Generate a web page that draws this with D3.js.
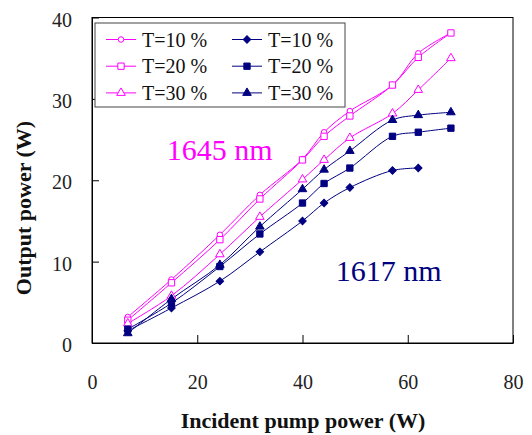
<!DOCTYPE html>
<html lang="en">
  <head>
    <meta charset="UTF-8" />
    <script src="https://d3js.org/d3.v7.min.js"></script>
    <title>Output power vs incident pump power</title>
    <style>
      body { margin: 0; background: #fff; }
      text { font-family: "Liberation Serif", "Times New Roman", serif; }
    </style>
  </head>
  <body>
    <div id="chart-container"></div>

    <script>
      // incident pump power (W)
      const pumpPower = [6.8, 15.1, 24.3, 31.9, 40.0, 44.1, 49.0, 57.1, 62.0, 68.2];

      // output power (W), 1645 nm
      const out1645T10 = [3.2, 7.8, 13.3, 18.2, 22.6, 25.9, 28.5, 31.7, 35.6, 38.1];
      const out1645T20 = [2.8, 7.4, 12.7, 17.7, 22.5, 25.4, 27.9, 31.7, 35.1, 38.1];
      const out1645T30 = [2.4, 5.8, 10.9, 15.5, 20.1, 22.5, 25.2, 28.2, 31.1, 35.0];

      // output power (W), 1617 nm
      const out1617T10 = [1.5, 4.3, 7.6, 11.2, 15.0, 17.2, 19.1, 21.2, 21.5];
      const out1617T20 = [1.7, 4.9, 9.4, 13.4, 17.2, 19.6, 21.5, 25.4, 25.9, 26.4];
      const out1617T30 = [1.2, 5.4, 9.6, 14.3, 18.9, 21.3, 23.6, 27.4, 28.0, 28.35];

      const xTicks = [0, 20, 40, 60, 80];
      const yTicks = [0, 10, 20, 30, 40];
      const legendLabels = ["T=10 %", "T=20 %", "T=30 %"];

      const pink = "#ff00ff";
      const navy = "#000080";

      const series = [
        { values: out1645T10, color: pink, shape: "circle", filled: false },
        { values: out1645T20, color: pink, shape: "square", filled: false },
        { values: out1645T30, color: pink, shape: "triangle", filled: false },
        { values: out1617T10, color: navy, shape: "diamond", filled: true },
        { values: out1617T20, color: navy, shape: "square", filled: true },
        { values: out1617T30, color: navy, shape: "triangle", filled: true },
      ];

      const margin = { top: 17.5, right: 19, bottom: 92, left: 92 };
      const fullW = 532, fullH = 435;
      const width = fullW - margin.left - margin.right;
      const height = fullH - margin.top - margin.bottom;

      const root = d3
        .select("#chart-container")
        .append("svg")
        .attr("width", fullW)
        .attr("height", fullH);

      const svg = root
        .append("g")
        .attr("transform", "translate(" + margin.left + "," + margin.top + ")");

      const x = d3.scaleLinear().domain([0, 80]).range([0, width]);
      const y = d3.scaleLinear().domain([0, 40]).range([height, 0]);

      // plot frame (top and right sides)
      svg
        .append("rect")
        .attr("width", width)
        .attr("height", height)
        .attr("fill", "none")
        .attr("stroke", "#000")
        .attr("stroke-width", 1);

      const xAxis = svg
        .append("g")
        .attr("transform", "translate(0," + height + ")")
        .call(
          d3.axisBottom(x).tickValues(xTicks).tickSizeInner(-8).tickSizeOuter(0).tickPadding(0)
        );
      xAxis.selectAll("text").attr("y", 46).attr("dy", 0);

      const yAxis = svg
        .append("g")
        .call(
          d3.axisLeft(y).tickValues(yTicks).tickSizeInner(-7).tickSizeOuter(0).tickPadding(20)
        );
      yAxis.selectAll("text").attr("dy", "0.43em");

      [xAxis, yAxis].forEach((g) => {
        g.style("font-family", '"Liberation Serif", serif')
          .style("font-size", "20px")
          .style("color", "#000");
        g.selectAll("text").attr("fill", "#222");
      });

      const symbolFor = {
        circle: d3.symbol().type(d3.symbolCircle).size(24),
        square: d3.symbol().type(d3.symbolSquare).size(40),
        triangle: d3.symbol().type(d3.symbolTriangle).size(32),
        diamond: d3.symbol().type(d3.symbolSquare).size(28),
      };

      function drawMarker(sel, s) {
        return sel
          .append("path")
          .attr("d", symbolFor[s.shape]())
          .attr("fill", s.filled ? s.color : "#fff")
          .attr("stroke", s.color)
          .attr("stroke-width", 1);
      }

      const line = d3
        .line()
        .x((d) => x(d[0]))
        .y((d) => y(d[1]))
        .curve(d3.curveCatmullRom.alpha(0.5));

      series.forEach((s) => {
        const pts = s.values.map((v, i) => [pumpPower[i], v]);
        svg
          .append("path")
          .datum(pts)
          .attr("fill", "none")
          .attr("stroke", s.color)
          .attr("stroke-width", 1)
          .attr("d", line);
      });

      series.forEach((s) => {
        const pts = s.values.map((v, i) => [pumpPower[i], v]);
        svg
          .selectAll(null)
          .data(pts)
          .enter()
          .append("g")
          .attr("transform", (d) => {
            const rot = s.shape === "diamond" ? " rotate(45)" : "";
            return "translate(" + x(d[0]) + "," + y(d[1]) + ")" + rot;
          })
          .each(function () {
            drawMarker(d3.select(this), s);
          });
      });

      // legend
      const legend = root.append("g").attr("transform", "translate(95,23)");
      legend
        .append("rect")
        .attr("width", 250)
        .attr("height", 84)
        .attr("fill", "#fff")
        .attr("stroke", "#444")
        .attr("stroke-width", 1);

      series.forEach((s, i) => {
        const col = i < 3 ? 0 : 1;
        const row = i % 3;
        const lx = 11 + col * 126;
        const ly = 16.5 + row * 26.7;
        const item = legend.append("g").attr("transform", "translate(" + lx + "," + ly + ")");
        item
          .append("line")
          .attr("x1", 0)
          .attr("x2", 30)
          .attr("stroke", s.color)
          .attr("stroke-width", 1);
        const m = item
          .append("g")
          .attr("transform", "translate(15,0)" + (s.shape === "diamond" ? " rotate(45)" : ""));
        drawMarker(m, s);
        item
          .append("text")
          .attr("x", 36)
          .attr("y", 7.2)
          .attr("font-size", "20px")
          .attr("fill", "#111")
          .text(legendLabels[row]);
      });

      // wavelength labels
      svg
        .append("text")
        .attr("x", x(14.2))
        .attr("y", y(22.6) + 0.5)
        .attr("font-size", "30px")
        .attr("fill", pink)
        .text("1645 nm");

      svg
        .append("text")
        .attr("x", x(46.3))
        .attr("y", y(7.6))
        .attr("font-size", "30px")
        .attr("fill", navy)
        .text("1617 nm");

      // axis titles
      root
        .append("text")
        .attr("x", 303)
        .attr("y", 428)
        .attr("text-anchor", "middle")
        .attr("font-size", "22px")
        .attr("font-weight", "bold")
        .attr("fill", "#111")
        .text("Incident pump power (W)");

      root
        .append("text")
        .attr("transform", "translate(31,208) rotate(-90)")
        .attr("text-anchor", "middle")
        .attr("font-size", "22px")
        .attr("font-weight", "bold")
        .attr("fill", "#111")
        .text("Output power (W)");
    </script>
  </body>
</html>
